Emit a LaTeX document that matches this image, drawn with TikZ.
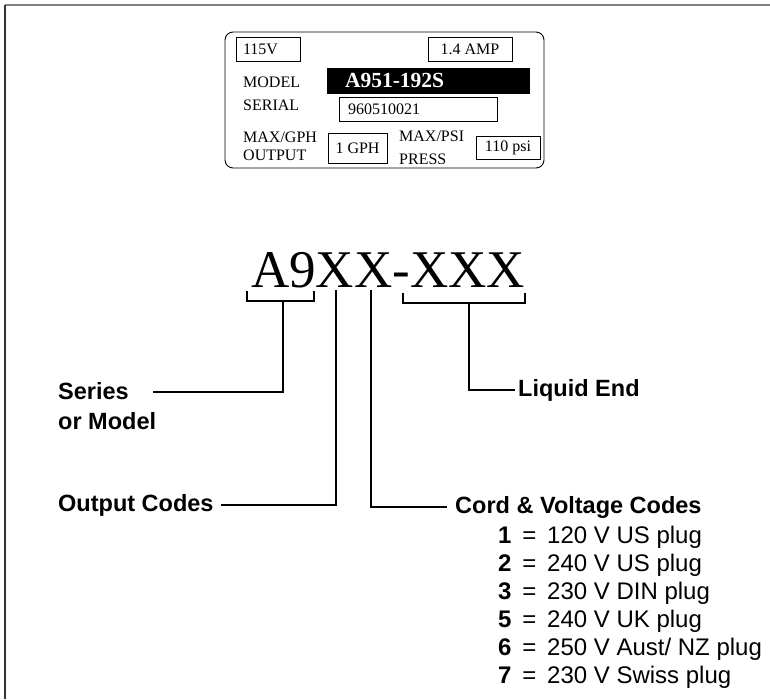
\documentclass[tikz,border=0pt]{standalone}
\usepackage{fontspec}
\setmainfont{Liberation Serif}
\setsansfont{Liberation Sans}
\newcommand{\setpx}[2]{\fontsize{#1}{#2}\selectfont}

\tikzset{
  pltxt/.style={font=\setpx{16}{18}, inner sep=0pt},
  plbox/.style={draw, line width=0.8pt, inner sep=0pt, font=\setpx{16}{18}},
  lbl/.style={font=\sffamily\bfseries\setpx{23.5}{30}, inner sep=0pt},
  lead/.style={line width=1.5pt},
  opt/.style={font=\sffamily\setpx{24}{28}, inner sep=0pt, anchor=base west}
}

\begin{document}
\begin{tikzpicture}[x=1pt, y=-1pt]
  \useasboundingbox (0,0) rectangle (770,699);
  % moldura
  \draw[line width=2pt, black!50] (5,5) -- (770,5);
  \draw[line width=2pt, black!80] (5,5) -- (5,699);

  % placa de identificacao
  \draw[rounded corners=8pt, line width=0.9pt] (225,32) rectangle (544,168);
  \node[plbox, minimum height=24pt, text width=50pt, inner xsep=7pt, align=left] (volt) at (268,49) {115V};
  \node[plbox, minimum height=24pt, minimum width=84pt] (amp) at (470,49) {1.4 AMP};
  \node[pltxt, anchor=base west] (model) at (243,87) {MODEL};
  \node[plbox, fill=black, text=white, font=\bfseries\setpx{21.5}{24}, minimum height=25pt, text width=166pt, inner xsep=18pt, align=left] (modelno) at (428,80.5) {A951-192S};
  \node[pltxt, anchor=base west] (serial) at (243,110) {SERIAL};
  \node[plbox, minimum height=24pt, text width=140pt, inner xsep=9pt, align=left] (serialno) at (418,109) {960510021};
  % base = linha de baixo
  \node[pltxt, anchor=base west, align=left] (gphlbl) at (243,160) {MAX/GPH\\OUTPUT};
  \node[plbox, minimum height=30pt, minimum width=59pt] (gph) at (357.5,148) {1 GPH};
  \node[pltxt, anchor=base west, align=left, font=\setpx{16}{23}] (psilbl) at (399,164) {MAX/PSI\\PRESS};
  \node[plbox, minimum height=23pt, minimum width=64pt] (psi) at (508,147.5) {110 psi};

  % codigo do modelo
  \node[font=\setpx{53}{60}, inner sep=0pt, anchor=base west] (code) at (251,287) {A9XX-XXX};

  % chaves e pontos de partida das linhas
  \draw[lead] (247,291) -- (247,301) -- (314,301) -- (314,291);
  \draw[lead] (403,293) -- (403,303) -- (525,303) -- (525,293);
  \coordinate (sbr) at (283,301);
  \coordinate (obr) at (336,290);
  \coordinate (cbr) at (371,290);
  \coordinate (lbr) at (469,303);

  % rotulos
  \node[lbl, anchor=base west, align=left] (series) at (58,429) {Series\\or Model};
  \coordinate (send) at (153,392);
  \node[lbl, anchor=base west] (output) at (58,511) {Output Codes};
  \node[lbl, anchor=base west] (cord) at (455,513) {Cord \& Voltage Codes};
  \node[lbl, anchor=base west] (liquid) at (518,396) {Liquid End};

  \draw[lead] (sbr) |- (send);
  \draw[lead] (obr) |- ([xshift=7pt]output.east);
  \draw[lead] (cbr) |- ([xshift=-8pt]cord.west);
  \draw[lead] (lbr) |- ([xshift=-3pt]liquid.west);

  % codigos de cabo e tensao
  \foreach \n/\t [count=\i from 0] in {1/{120 V US plug}, 2/{240 V US plug}, 3/{230 V DIN plug},
      5/{240 V UK plug}, 6/{250 V Aust/ NZ plug}, 7/{230 V Swiss plug}} {
    \node[opt] (plug\n) at (498,{543+28*\i}) {\textbf{\n}\hspace{0.45em}=\hspace{0.45em}\t};
  }
\end{tikzpicture}
\end{document}
